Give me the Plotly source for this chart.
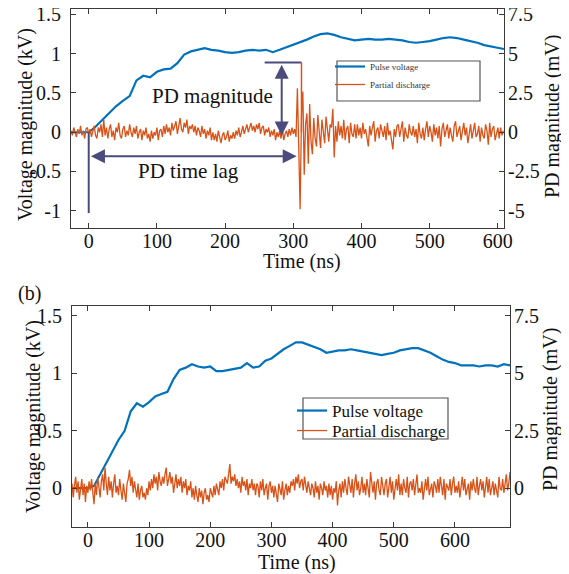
import plotly.graph_objects as go

# ---- data ----
# (a) pulse voltage, kV, sampled every 10 ns
t_volt_a = [-26] + list(range(0, 601, 10)) + [609]
volt_a = [0.0,
          0.0, 0.07, 0.16, 0.25, 0.33, 0.40, 0.46, 0.66, 0.72, 0.70,
          0.77, 0.80, 0.81, 0.88, 0.99, 1.03, 1.05, 1.07, 1.05, 1.04,
          1.02, 1.01, 1.02, 1.04, 1.05, 1.04, 1.05, 1.02, 1.05, 1.08,
          1.12, 1.14, 1.18, 1.22, 1.25, 1.26, 1.24, 1.21, 1.19, 1.17,
          1.18, 1.19, 1.18, 1.18, 1.19, 1.18, 1.17, 1.15, 1.14, 1.15,
          1.16, 1.18, 1.20, 1.21, 1.20, 1.18, 1.16, 1.14, 1.11, 1.09,
          1.07,
          1.06]

# (a) partial discharge, mV, sampled every 2 ns from -26 ns
t_pd_a = list(range(-26, 609, 2))
pd_a = [0.1, -0.2, 0.3, 0.0, -0.3, 0.2, -0.1, 0.4, -0.2, 0.1, -0.4, 0.2, 0.3, -0.1, 0.2,
        -0.3, 0.1, 0.4, -0.2, -0.4, 0.3, 0.0, 0.5, -0.3, 0.8, -0.2, 0.3, -0.4, 0.2, 0.5,
        -0.3, 0.1, -0.5, 0.3, 0.0, 0.6, -0.2, -0.4, 0.2, 0.4, -0.3, 0.1, -0.2, 0.5, 0.0,
        -0.3, 0.3, -0.1, 0.4, -0.4, 0.0, 0.2, -0.5, 0.1, -0.2, 0.3, -0.4, -0.1, -0.6, 0.1,
        -0.4, 0.0, -0.2, 0.3, -0.5, 0.1, 0.2, -0.3, 0.4, -0.1, 0.5, 0.0, 0.3, -0.2, 0.6,
        0.1, 0.4, 0.7, -0.1, 0.3, 0.9, 0.2, 0.0, 0.6, 0.3, 0.8, -0.1, 0.4, 0.2, 0.5,
        0.0, 0.4, -0.2, 0.3, 0.1, -0.3, 0.4, -0.1, 0.2, -0.4, 0.1, -0.2, 0.3, -0.5, 0.0,
        -0.5, -0.1, -0.6, 0.1, -0.3, -0.7, -0.2, 0.0, -0.5, -0.3, 0.1, -0.6, -0.2, -0.4, 0.0,
        -0.4, 0.1, -0.2, 0.3, -0.3, 0.0, 0.4, -0.1, 0.2, 0.5, 0.0, 0.3, 0.6, 0.1, 0.4,
        0.0, 0.5, 0.2, 0.6, -0.1, 0.3, 0.4, -0.2, 0.2, 0.0, 0.3, -0.3, 0.1, -0.2, 0.2,
        -0.5, 0.0, -0.3, 0.1, -0.4, 0.2, -0.5, -0.1, 0.1, -0.3, 0.2, -0.2, 0.3, -0.1, 0.2,
        -0.3, 2.8, -1.0, -4.9, 1.0, 2.6, -2.7, 0.5, 1.2, -2.0, 1.8, -0.6, -1.4, 0.9, -0.4,
        -0.9, 1.1, -0.3, -1.0, 0.8, -0.2, -0.7, 1.0, 0.1, -0.6, 0.5, 0.3, 1.5, -1.6, 0.4,
        -0.6, 0.7, -0.2, 0.4, -0.4, 0.8, -0.5, 0.2, 0.4, -0.7, 0.6, -0.1, -0.3, 0.5, -0.4,
        0.5, -0.2, 0.3, -0.4, 0.6, -0.1, 0.2, -0.5, -0.9, 0.4, -0.2, 0.3, 0.7, -0.6, 0.1,
        0.3, -0.4, 0.5, 0.0, -0.3, 0.4, -0.5, 0.6, -0.2, 0.1, -0.4, -1.1, 0.2, -0.3, 0.4,
        0.5, -0.3, 0.1, 0.7, -0.6, 0.3, -0.2, -0.4, 0.5, 0.0, -0.2, 0.4, -0.3, 0.2, -0.7,
        0.6, -0.1, -0.4, 0.3, -0.5, 0.2, 0.7, -0.3, 0.4, 0.0, -0.6, 0.5, -0.2, 0.3, -0.4,
        0.4, -0.9, 0.2, 0.6, -0.3, 0.1, 0.5, -0.4, 0.3, -0.2, -0.6, 0.4, 0.7, -0.3, 0.0,
        0.4, -0.5, 0.2, 0.6, -0.2, 0.3, -0.7, 0.1, 0.5, -0.4, 0.2, 0.6, -0.3, -0.1, 0.4,
        -0.6, 0.3, -0.2, -0.4, 0.5, 0.1, -0.8, 0.6, -0.3, 0.2, 0.4, -0.5, 0.0, 0.3, -0.4,
        0.3, -0.2, 0.1]

# (b) pulse voltage, kV, every 10 ns
t_volt_b = [-26] + list(range(0, 691, 10))
volt_b = [0.0,
          0.0, 0.02, 0.12, 0.22, 0.32, 0.42, 0.50, 0.67, 0.74, 0.71,
          0.75, 0.80, 0.82, 0.84, 0.95, 1.03, 1.05, 1.08, 1.06, 1.05,
          1.06, 1.02, 1.02, 1.03, 1.04, 1.05, 1.09, 1.05, 1.06, 1.11,
          1.13, 1.17, 1.21, 1.24, 1.27, 1.27, 1.25, 1.23, 1.21, 1.18,
          1.19, 1.20, 1.20, 1.21, 1.20, 1.19, 1.18, 1.17, 1.16, 1.17,
          1.18, 1.20, 1.21, 1.22, 1.22, 1.20, 1.18, 1.15, 1.12, 1.10,
          1.09, 1.07, 1.07, 1.07, 1.06, 1.07, 1.07, 1.06, 1.08, 1.07]

# (b) partial discharge, mV, every 2 ns from -26 ns
t_pd_b = list(range(-26, 691, 2))
pd_b = [0.2, -0.4, 0.1, 0.5, -0.2, 0.3, -0.5, 0.0, 0.4, -0.3, 0.2, -0.6, 0.1, -0.2, 0.3,
        -0.1, 0.4, -0.2, -0.7, 0.2, -0.3, 0.5, 0.0, -0.4, 0.3, 0.6, -0.1, 0.9, 0.2, -0.3,
        0.5, -0.1, 0.3, -0.4, 0.2, 0.6, -0.2, 0.1, -0.3, 0.4, -0.1, -0.5, 0.2, -0.3, -0.6,
        0.2, 0.4, 0.8, 0.1, 0.5, -0.2, 0.3, 0.0, -0.4, 0.2, -0.5, -0.1, 0.1, -0.4, -0.2,
        -0.5, 0.0, -0.3, 0.3, -0.1, 0.4, 0.0, 0.6, 0.2, 0.5, -0.1, 0.7, 0.3, 0.1, 0.5,
        0.2, 0.6, 0.9, 0.1, 0.4, 0.7, 0.2, 0.5, -0.2, 0.3, 0.6, 0.0, 0.4, 0.1, 0.5,
        -0.2, 0.3, 0.0, 0.4, -0.3, 0.1, -0.1, 0.3, -0.4, 0.0, -0.5, 0.1, -0.3, -0.6, 0.0,
        -0.4, -0.1, -0.7, -0.2, 0.0, -0.5, -0.3, -0.6, 0.0, -0.2, -0.4, 0.1, -0.3, 0.2, -0.1,
        -0.3, 0.3, 0.0, 0.4, -0.1, 0.5, 0.3, 0.2, 0.6, 1.05, 0.2, 0.5, 0.3, 0.6, 0.1,
        0.4, 0.0, 0.3, -0.2, 0.5, 0.1, 0.3, -0.1, 0.4, -0.3, 0.2, 0.0, 0.4, -0.1, 0.2,
        -0.3, 0.2, 0.1, -0.4, 0.3, -0.1, 0.4, -0.3, 0.0, 0.2, -0.5, 0.1, 0.3, -0.2, 0.1,
        -0.4, 0.1, -0.2, -0.6, 0.2, 0.0, -0.3, 0.3, -0.5, -0.1, 0.2, -0.3, 0.1, -0.2, 0.3,
        0.1, 0.4, -0.1, 0.5, 0.2, 0.6, 0.0, 0.3, 0.4, -0.1, 0.5, 0.1, -0.2, 0.3, 0.0,
        -0.3, 0.2, 0.0, -0.4, 0.3, -0.2, 0.1, -0.5, 0.2, 0.0, -0.3, 0.3, -0.1, 0.1, -0.4,
        0.2, -0.3, 0.1, -0.5, 0.0, -0.2, 0.3, -0.75, -0.1, 0.2, -0.4, 0.3, -0.2, 0.4, 0.0,
        -0.3, 0.5, 0.1, -0.2, 0.4, -0.4, 0.2, 0.6, -0.1, 0.3, -0.3, 0.0, 0.5, -0.2, 0.2,
        -0.3, 0.4, 0.0, -0.4, 0.7, 0.1, -0.2, 0.3, -0.5, 0.2, 0.4, -0.1, -0.3, 0.5, 0.0,
        -0.3, 0.2, 0.4, -0.4, 0.1, 0.5, -0.2, 0.3, -0.5, 0.0, 0.4, -0.1, 0.6, -0.3, 0.2,
        -0.3, 0.4, 0.0, -0.2, 0.5, -0.4, 0.2, 0.3, -0.1, 0.4, -0.3, 0.1, 0.6, -0.2, 0.0,
        -0.2, 0.3, -0.5, 0.1, 0.4, -0.1, 0.5, -0.3, 0.0, 0.2, -0.4, 0.3, 0.1, -0.2, 0.4,
        -0.2, 0.5, 0.0, -0.3, 0.4, -0.5, 0.2, 0.0, -0.1, 0.4, -0.3, 0.2, 0.5, -0.2, 0.1,
        -0.2, 0.3, -0.4, 0.1, 0.5, -0.1, 0.4, -0.3, 0.0, 0.2, -0.5, 0.3, -0.1, 0.4, 0.0,
        -0.2, 0.5, -0.3, 0.1, 0.4, -0.1, 0.3, -0.4, 0.0, 0.5, -0.2, 0.4, -0.3, 0.1, 0.3,
        -0.3, 0.2, -0.1, -0.4, 0.5, 0.0, -0.1, 0.4, -0.2, 0.3, 0.6, -0.1, 0.2, 0.7]

x_ticks = [0, 100, 200, 300, 400, 500, 600]
kv_ticks_a = [-1, -0.5, 0, 0.5, 1, 1.5]
kv_text_a = ["-1", "-0.5", "0", "0.5", "1", "1.5"]
mv_ticks_a = [-5, -2.5, 0, 2.5, 5, 7.5]
mv_text_a = ["-5", "-2.5", "0", "2.5", "5", "7.5"]
kv_ticks_b = [0, 0.5, 1, 1.5]
mv_ticks_b = [0, 2.5, 5, 7.5]

BLUE = "#0072BD"
ORANGE = "#D95319"
ANN = "#4B4B7D"
AX = "#3a3a3a"
FONT = "Liberation Serif"
OFF = 8  # page body margin of the html page
W, H = 569 - OFF, 574 - OFF


# positions below are given in screen pixels of the 569x574 window
def px(x):
    return (x - OFF) / W


def py(y):
    return 1 - (y - OFF) / H


fig = go.Figure()
fig.add_trace(go.Scatter(x=t_volt_a, y=volt_a, name="Pulse voltage", mode="lines",
                         line=dict(color=BLUE, width=2.2), xaxis="x", yaxis="y",
                         legend="legend"))
fig.add_trace(go.Scatter(x=t_pd_a, y=pd_a, name="Partial discharge", mode="lines",
                         line=dict(color=ORANGE, width=1.3), xaxis="x", yaxis="y2",
                         legend="legend2"))
fig.add_trace(go.Scatter(x=t_volt_b, y=volt_b, name="Pulse voltage", mode="lines",
                         line=dict(color=BLUE, width=2.2), xaxis="x2", yaxis="y3",
                         legend="legend3"))
fig.add_trace(go.Scatter(x=t_pd_b, y=pd_b, name="Partial discharge", mode="lines",
                         line=dict(color=ORANGE, width=1.3), xaxis="x2", yaxis="y4",
                         legend="legend4"))

axis_style = dict(showline=True, linecolor=AX, linewidth=1, ticks="inside", ticklen=5,
                  tickcolor=AX, showgrid=False, zeroline=False, automargin=False,
                  ticklabeloverflow="allow",
                  tickfont=dict(family=FONT, size=20, color="#111"))

small_leg = dict(xanchor="left", yanchor="top", bgcolor="rgba(0,0,0,0)", borderwidth=0,
                 itemwidth=30, font=dict(family=FONT, size=9, color="#333"))
big_leg = dict(xanchor="left", yanchor="top", bgcolor="rgba(0,0,0,0)", borderwidth=0,
               itemwidth=30, font=dict(family=FONT, size=17, color="#111"))

fig.update_layout(
    width=W, height=H,
    margin=dict(l=0, r=0, t=0, b=0),
    paper_bgcolor="white", plot_bgcolor="white",
    font=dict(family=FONT, size=20, color="#111"),
    xaxis=dict(domain=[px(71), px(504)], anchor="y", range=[-26, 609], tickvals=x_ticks,
               mirror="ticks", ticklabelstandoff=-5, **axis_style),
    yaxis=dict(domain=[py(228), py(9)], anchor="x", range=[-1.22, 1.57],
               tickvals=kv_ticks_a, ticktext=kv_text_a, ticklabelstandoff=5, **axis_style),
    yaxis2=dict(overlaying="y", side="right", anchor="x", range=[-6.1, 7.85],
                tickvals=mv_ticks_a, ticktext=mv_text_a, ticklabelstandoff=-1, **axis_style),
    xaxis2=dict(domain=[px(72), px(510)], anchor="y3", range=[-26, 690], tickvals=x_ticks,
                mirror="ticks", ticklabelstandoff=-5, **axis_style),
    yaxis3=dict(domain=[py(527), py(306)], anchor="x2", range=[-0.338, 1.587],
                tickvals=kv_ticks_b, ticklabelstandoff=5, **axis_style),
    yaxis4=dict(overlaying="y3", side="right", anchor="x2", range=[-1.69, 7.935],
                tickvals=mv_ticks_b, ticklabelstandoff=-1, **axis_style),
    legend=dict(x=px(330), y=py(52), **small_leg),
    legend2=dict(x=px(330), y=py(70), **small_leg),
    legend3=dict(x=px(292), y=py(393), **big_leg),
    legend4=dict(x=px(292), y=py(413), **big_leg),
    showlegend=True,
)

shapes = [
    # legend frames
    dict(type="rect", xref="paper", yref="paper", x0=px(337), x1=px(480), y0=py(101), y1=py(61),
         line=dict(color="#555", width=1.2)),
    dict(type="rect", xref="paper", yref="paper", x0=px(303), x1=px(448), y0=py(439), y1=py(398),
         line=dict(color="#555", width=1.2), layer="below"),
    # PD time lag start marker
    dict(type="line", xref="x", yref="y", x0=0, x1=0, y0=-1.03, y1=0,
         line=dict(color=ANN, width=2)),
    # PD magnitude top level
    dict(type="line", xref="x", yref="y", x0=258, x1=312, y0=0.89, y1=0.89,
         line=dict(color=ANN, width=2)),
    dict(type="line", xref="x", yref="y", x0=312, x1=312, y0=0.89, y1=0.0,
         line=dict(color=ORANGE, width=1.5)),
]
fig.update_layout(shapes=shapes)


def label(x, y, text, angle=0, size=20):
    return dict(x=px(x), y=py(y), xref="paper", yref="paper", text=text, textangle=angle,
                xanchor="center", yanchor="middle", showarrow=False,
                font=dict(family=FONT, size=size, color="#111"))


ann = [
    dict(x=305, y=-0.305, ax=1, ay=-0.305, xref="x", yref="y", axref="x", ayref="y",
         text="", showarrow=True, arrowhead=2, arrowside="end+start", arrowsize=1.4,
         arrowwidth=2, arrowcolor=ANN),
    dict(x=283, y=-0.04, ax=283, ay=0.88, xref="x", yref="y", axref="x", ayref="y",
         text="", showarrow=True, arrowhead=2, arrowside="end+start", arrowsize=1.4,
         arrowwidth=2, arrowcolor=ANN),
    dict(x=147, y=-0.5, xref="x", yref="y", text="PD time lag", showarrow=False,
         xanchor="center", yanchor="middle", font=dict(size=21)),
    dict(x=182, y=0.46, xref="x", yref="y", text="PD magnitude", showarrow=False,
         xanchor="center", yanchor="middle", font=dict(size=21)),
    # axis titles
    label(25, 125, "Voltage magnitude (kV)", -90),
    label(552, 117, "PD magnitude (mV)", -90),
    label(302, 261, "Time (ns)"),
    label(33, 417, "Voltage magnitude (kV)", -90),
    label(550, 410, "PD magnitude (mV)", -90),
    label(297, 562, "Time (ns)"),
    label(29, 293, "(b)"),
]
fig.update_layout(annotations=ann)

fig.write_html("out.html")
